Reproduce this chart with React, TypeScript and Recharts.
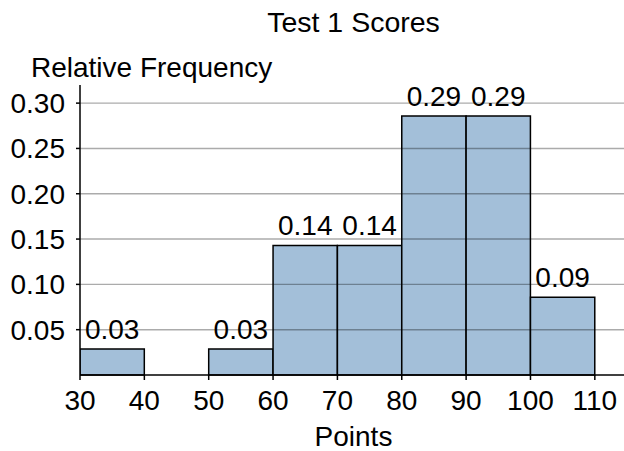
import React from 'react'
import { BarChart, Bar, XAxis, YAxis, ReferenceLine, LabelList } from 'recharts'

// bin centres (points) and relative frequency of each 10-point bin
const binMids = [35, 45, 55, 65, 75, 85, 95, 105]
const relFreq = [0.0286, 0, 0.0286, 0.1429, 0.1429, 0.2857, 0.2857, 0.0857]
const xTicks = [30, 40, 50, 60, 70, 80, 90, 100, 110]
const yTicks = [0.05, 0.1, 0.15, 0.2, 0.25, 0.3]

const data = binMids.map((mid, i) => ({ mid, freq: relFreq[i] }))

const FONT = '"Liberation Sans", Arial, Helvetica, sans-serif'
const CHART_W = 627
const CHART_H = 451
const LEFT = 80
const RIGHT = 0
const X_MIN = 30
const X_MAX = 115
const BIN = 10
// histogram bars span one whole bin (kept a hair under the band so recharts
// doesn't shrink them to 90%)
const barWidth = ((CHART_W - LEFT - RIGHT) / (X_MAX - X_MIN)) * BIN - 0.05

export default function App() {
  return (
    <div
      style={{
        position: 'absolute',
        left: 0,
        top: 0,
        width: 624,
        height: 451,
        overflow: 'hidden',
        background: '#fff',
        fontFamily: FONT,
      }}
    >
      <BarChart
        width={CHART_W}
        height={CHART_H}
        data={data}
        margin={{ top: 85, right: RIGHT, bottom: 0, left: 0 }}
        barCategoryGap={0}
        barGap={0}
      >
        <XAxis
          dataKey="mid"
          type="number"
          domain={[X_MIN, X_MAX]}
          ticks={xTicks}
          allowDataOverflow
          height={76}
          tickSize={5}
          tickMargin={10}
          stroke="#000"
          strokeWidth={1.5}
          tick={{ fill: '#000', fontSize: 28, fontFamily: FONT }}
          tickLine={{ stroke: '#000', strokeWidth: 1.5 }}
        />
        <YAxis
          type="number"
          domain={[0, 0.32]}
          ticks={yTicks}
          width={LEFT}
          tickSize={4}
          tickMargin={11}
          stroke="#000"
          strokeWidth={1.5}
          tickFormatter={(v: number) => v.toFixed(2)}
          tick={{ fill: '#000', fontSize: 28, fontFamily: FONT }}
          tickLine={{ stroke: '#000', strokeWidth: 1.5 }}
        />
        <Bar
          dataKey="freq"
          fill="#a3bfd9"
          stroke="#000"
          strokeWidth={1.5}
          barSize={barWidth}
          isAnimationActive={false}
        >
          <LabelList
            dataKey="freq"
            position="top"
            offset={10}
            formatter={(v: number) => (v > 0 ? v.toFixed(2) : '')}
            style={{ fill: '#000', fontSize: 28, fontFamily: FONT }}
          />
        </Bar>
        {yTicks.map((t) => (
          <ReferenceLine
            key={t}
            y={t}
            stroke="#000"
            strokeOpacity={0.33}
            strokeWidth={1.4}
          />
        ))}
      </BarChart>
      <svg
        width={624}
        height={451}
        style={{ position: 'absolute', left: 0, top: 0, pointerEvents: 'none' }}
      >
        <text x={353.5} y={32} textAnchor="middle" fontSize={28.5} fontFamily={FONT} fill="#000">
          Test 1 Scores
        </text>
        <text x={31} y={77} fontSize={28} fontFamily={FONT} fill="#000">
          Relative Frequency
        </text>
        <text x={353.5} y={446} textAnchor="middle" fontSize={28} fontFamily={FONT} fill="#000">
          Points
        </text>
      </svg>
    </div>
  )
}
